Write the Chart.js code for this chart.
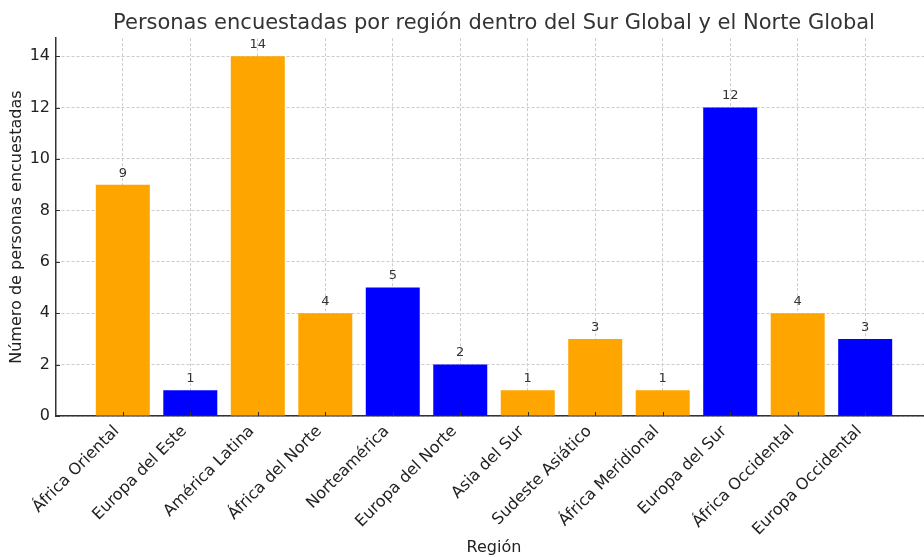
<!DOCTYPE html>
<html>
<head>
<meta charset="utf-8">
<script src="https://cdn.jsdelivr.net/npm/chart.js@4"></script>
<style>
  body { margin: 0; background: #fff; }
  #wrap { width: 924px; height: 557px; overflow: hidden; }
</style>
</head>
<body>
<div id="wrap"><canvas id="chart" width="940" height="557"></canvas></div>
<script>
const regiones = ['África Oriental', 'Europa del Este', 'América Latina', 'África del Norte',
  'Norteamérica', 'Europa del Norte', 'Asia del Sur', 'Sudeste Asiático',
  'África Meridional', 'Europa del Sur', 'África Occidental', 'Europa Occidental'];
const personas = [9, 1, 14, 4, 5, 2, 1, 3, 1, 12, 4, 3];
// 'S' = Sur Global, 'N' = Norte Global
const grupos = ['S', 'N', 'S', 'S', 'N', 'N', 'S', 'S', 'S', 'N', 'S', 'N'];
const yTicks = [0, 2, 4, 6, 8, 10, 12, 14];

const colorGrupo = { S: '#FFA500', N: '#0000FF' };
const font = "'DejaVu Sans', sans-serif";
const gridCfg = { color: '#cccccc', lineWidth: 1, drawTicks: false, offset: false };
const borderCfg = { display: true, color: '#333', width: 1.5, dash: [3, 2] };

// small inward tick marks and the value above each bar
const extras = {
  id: 'extras',
  afterDraw(chart) {
    const ctx = chart.ctx;
    const xs = chart.scales.x, ys = chart.scales.y;
    ctx.save();
    ctx.strokeStyle = '#333';
    ctx.lineWidth = 1;
    ctx.beginPath();
    xs.ticks.forEach((t, i) => {
      const px = Math.round(xs.getPixelForTick(i)) + 0.5;
      ctx.moveTo(px, ys.bottom);
      ctx.lineTo(px, ys.bottom - 4);
    });
    ys.ticks.forEach((t, i) => {
      const py = Math.round(ys.getPixelForTick(i)) + 0.5;
      ctx.moveTo(xs.left, py);
      ctx.lineTo(xs.left + 4, py);
    });
    ctx.stroke();

    ctx.fillStyle = '#333';
    ctx.font = '13px ' + font;
    ctx.textAlign = 'center';
    ctx.textBaseline = 'bottom';
    chart.getDatasetMeta(0).data.forEach((bar, i) => {
      ctx.fillText(String(personas[i]), bar.x, bar.y - 5);
    });
    ctx.restore();
  }
};

new Chart(document.getElementById('chart'), {
  type: 'bar',
  data: {
    datasets: [{
      data: personas.map((v, i) => ({ x: i, y: v })),
      backgroundColor: grupos.map(g => colorGrupo[g]),
      categoryPercentage: 1,
      barPercentage: 0.8
    }]
  },
  options: {
    responsive: false,
    animation: false,
    devicePixelRatio: 1,
    layout: { padding: { left: 0, right: 8, top: 0, bottom: 0 } },
    plugins: {
      legend: { display: false },
      tooltip: { enabled: false },
      title: {
        display: true,
        fullSize: false,
        text: 'Personas encuestadas por región dentro del Sur Global y el Norte Global',
        color: '#333',
        font: { family: font, size: 21, weight: 'normal', lineHeight: 1.2 },
        padding: { top: 11, bottom: 2 }
      }
    },
    scales: {
      x: {
        type: 'linear',
        offset: false,
        min: -0.99,
        max: 11.99,
        z: 1,
        afterBuildTicks: s => { s.ticks = regiones.map((_, i) => ({ value: i })); },
        afterFit: s => { s.height = 141; },
        grid: gridCfg,
        border: borderCfg,
        ticks: {
          autoSkip: false,
          maxRotation: 45,
          minRotation: 45,
          padding: 6,
          labelOffset: -6,
          color: '#222',
          font: { family: font, size: 16 },
          callback: v => regiones[v]
        },
        title: {
          display: true,
          text: 'Región',
          color: '#222',
          font: { family: font, size: 16 },
          padding: { top: 0, bottom: 0 }
        }
      },
      y: {
        min: 0,
        max: 14.7,
        z: 1,
        afterBuildTicks: s => { s.ticks = yTicks.map(v => ({ value: v })); },
        afterFit: s => { s.width = 56; },
        grid: gridCfg,
        border: borderCfg,
        ticks: {
          padding: 6,
          color: '#222',
          font: { family: font, size: 16 }
        },
        title: {
          display: true,
          text: 'Número de personas encuestadas',
          color: '#222',
          font: { family: font, size: 16 },
          padding: { top: 7, bottom: 0 }
        }
      }
    }
  },
  plugins: [extras]
});
</script>
</body>
</html>
